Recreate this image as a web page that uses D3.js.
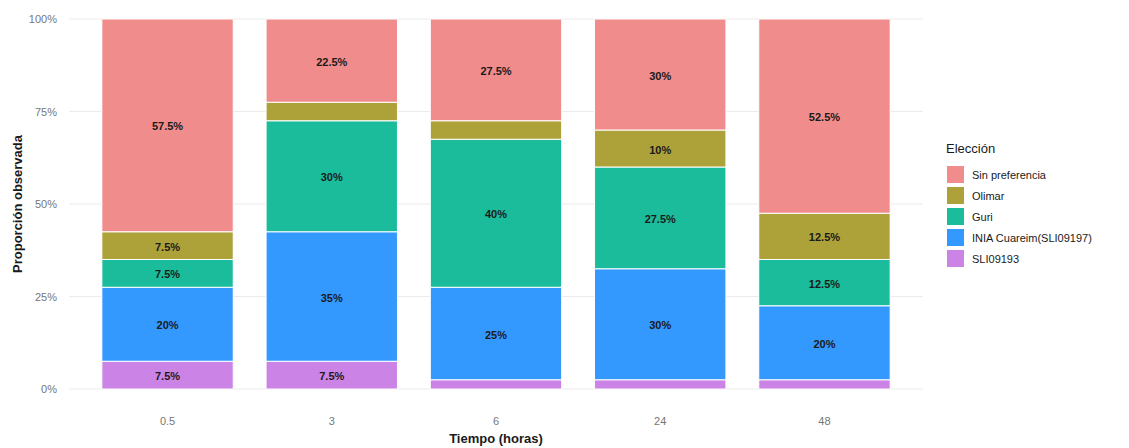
<!DOCTYPE html>
<html><head><meta charset="utf-8">
<script src="https://cdn.jsdelivr.net/npm/d3@7"></script>
<style>body{margin:0;background:#fff;font-family:"Liberation Sans",Arial,sans-serif;}</style>
</head><body><svg id="c" width="1129" height="448"></svg>
<script>
const categories = ["0.5","3","6","24","48"];
const seriesNames = ["SLI09193","INIA Cuareim(SLI09197)","Guri","Olimar","Sin preferencia"];
const SLI09193 = [7.5, 7.5, 2.5, 2.5, 2.5];
const INIA = [20, 35, 25, 30, 20];
const Guri = [7.5, 30, 40, 27.5, 12.5];
const Olimar = [7.5, 5, 5, 10, 12.5];
const SinPref = [57.5, 22.5, 27.5, 30, 52.5];
const yTicks = [0, 25, 50, 75, 100];
const colors = {"Sin preferencia":"#F08C8C","Olimar":"#ADA13A","Guri":"#1ABC9C","INIA Cuareim(SLI09197)":"#3399FF","SLI09193":"#CC83E6"};
const legendOrder = ["Sin preferencia","Olimar","Guri","INIA Cuareim(SLI09197)","SLI09193"];

const valuesBy = {"SLI09193":SLI09193,"INIA Cuareim(SLI09197)":INIA,"Guri":Guri,"Olimar":Olimar,"Sin preferencia":SinPref};
const table = categories.map((c,i)=>{const o={cat:c}; seriesNames.forEach(s=>o[s]=valuesBy[s][i]); return o;});
const stack = d3.stack().keys(seriesNames)(table);

const svg = d3.select("#c");
const x = d3.scaleBand().domain(categories).range([69,923]).paddingInner(0.2).paddingOuter(0.2);
const y = d3.scaleLinear().domain([0,100]).range([389,19]);

// grid
svg.append("g").selectAll("line").data(yTicks).join("line")
  .attr("x1",69).attr("x2",923).attr("y1",d=>y(d)).attr("y2",d=>y(d))
  .attr("stroke","#ebebeb").attr("stroke-width",1);
svg.append("g").selectAll("line").data(categories).join("line")
  .attr("x1",d=>x(d)+x.bandwidth()/2).attr("x2",d=>x(d)+x.bandwidth()/2).attr("y1",19).attr("y2",389)
  .attr("stroke","#ebebeb").attr("stroke-width",1);

// bars
const layers = svg.append("g").selectAll("g").data(stack).join("g").attr("fill",d=>colors[d.key]);
layers.selectAll("rect").data(d=>d).join("rect")
  .attr("x",d=>x(d.data.cat)).attr("width",x.bandwidth())
  .attr("y",d=>y(d[1])).attr("height",d=>y(d[0])-y(d[1]))
  .attr("stroke","#ffffff").attr("stroke-width",1);

// labels
const lab = svg.append("g");
stack.forEach(layer=>{
  layer.forEach(d=>{
    const v = d[1]-d[0];
    if (v >= 7.5) {
      lab.append("text").attr("x",x(d.data.cat)+x.bandwidth()/2).attr("y",y((d[0]+d[1])/2)+1)
        .attr("text-anchor","middle").attr("dominant-baseline","central")
        .attr("font-size",11).attr("font-weight","bold").attr("fill","#1a1a1a")
        .text(String(v)+"%");
    }
  });
});

// axes
const yAxis = d3.axisLeft(y).tickValues(yTicks).tickFormat(d=>d+"%").tickSize(0).tickPadding(6);
const ga = svg.append("g").attr("transform","translate(63,0)").call(yAxis);
ga.select(".domain").remove();
ga.selectAll("text").attr("fill","#777").attr("font-size",11).attr("font-family","Liberation Sans, Arial, sans-serif");

const xAxis = d3.axisBottom(x).tickSize(0).tickPadding(0);
const gx = svg.append("g").attr("transform","translate(0,417)").call(xAxis);
gx.select(".domain").remove();
gx.selectAll("text").attr("fill","#777").attr("font-size",11).attr("font-family","Liberation Sans, Arial, sans-serif");

svg.append("text").attr("x",496).attr("y",443).attr("text-anchor","middle")
  .attr("font-size",13).attr("font-weight","bold").attr("fill","#1a1a1a").text("Tiempo (horas)");
svg.append("text").attr("transform","translate(22,204) rotate(-90)").attr("text-anchor","middle")
  .attr("font-size",13).attr("font-weight","bold").attr("fill","#1a1a1a").text("Proporción observada");

// legend
const lg = svg.append("g").attr("transform","translate(946,0)");
lg.append("text").attr("x",0).attr("y",153).attr("font-size",13).attr("fill","#1a1a1a").text("Elección");
legendOrder.forEach((k,i)=>{
  const cy = 174 + i*21;
  lg.append("rect").attr("x",1).attr("y",cy-8).attr("width",17).attr("height",17).attr("fill",colors[k]);
  lg.append("text").attr("x",26).attr("y",cy+1).attr("dominant-baseline","central")
    .attr("font-size",11).attr("fill","#1a1a1a").text(k);
});
</script></body></html>
